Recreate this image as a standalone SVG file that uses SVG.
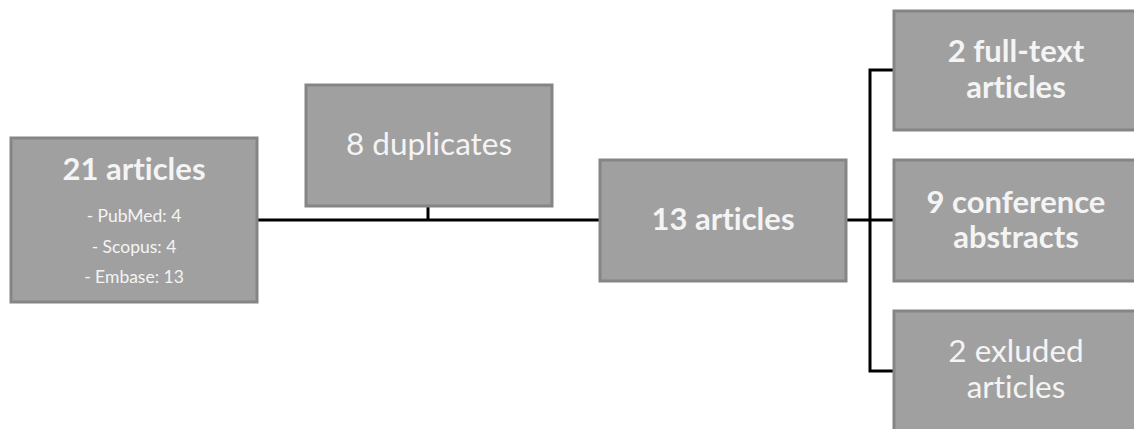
<svg xmlns="http://www.w3.org/2000/svg" width="1134" height="429" viewBox="0 0 1134 429">
<style>
.box{fill:#a0a0a0;stroke:#858585;stroke-width:3}
.t{font-family:Lato,"Open Sans",sans-serif;fill:#f4f4f4;text-anchor:middle;font-variant-ligatures:none;font-feature-settings:"liga" 0}
.b{font-weight:bold;font-size:31px}
.r{font-size:31.5px}
.s{font-size:17.5px}
.c{fill:none;stroke:#000;stroke-width:3}
</style>
<rect width="1134" height="429" fill="#fff"/>
<g id="connectors">
<path class="c" d="M258 220 H600"/>
<path class="c" d="M428 206 V220"/>
<path class="c" d="M847 220 H870"/>
<path class="c" d="M893 70 H870 V371 H893"/>
<path class="c" d="M870 220 H893"/>
</g>
<g id="n21">
<rect class="box" x="11" y="138" width="246" height="164"/>
<text class="t b" x="134" y="180">21 articles</text>
<text class="t s" x="134" y="222">- PubMed: 4</text>
<text class="t s" x="134" y="253">- Scopus: 4</text>
<text class="t s" x="134" y="283">- Embase: 13</text>
</g>
<g id="ndup">
<rect class="box" x="306" y="85" width="246" height="121"/>
<text class="t r" x="429" y="155">8 duplicates</text>
</g>
<g id="n13">
<rect class="box" x="600" y="160" width="246" height="121"/>
<text class="t b" x="723" y="230">13 articles</text>
</g>
<g id="nfull">
<rect class="box" x="894" y="11" width="246" height="119"/>
<text class="t b" x="1016" y="62">2 full-text</text>
<text class="t b" x="1016" y="98">articles</text>
</g>
<g id="nconf">
<rect class="box" x="894" y="160" width="246" height="121"/>
<text class="t b" x="1016" y="213">9 conference</text>
<text class="t b" x="1016" y="248">abstracts</text>
</g>
<g id="nexcl">
<rect class="box" x="894" y="311" width="246" height="130"/>
<text class="t r" x="1016" y="362">2 exluded</text>
<text class="t r" x="1016" y="398">articles</text>
</g>
</svg>
